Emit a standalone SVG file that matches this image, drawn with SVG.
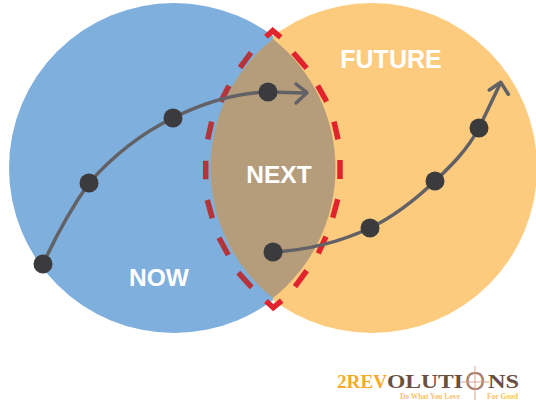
<svg xmlns="http://www.w3.org/2000/svg" width="536" height="401" viewBox="0 0 536 401">
<defs>
<clipPath id="cl"><rect x="0" y="0" width="273" height="401"/></clipPath>
<clipPath id="cr"><rect x="273" y="0" width="263" height="401"/></clipPath>
</defs>
<style>
.lbl{font-family:"Liberation Sans",Arial,sans-serif;font-weight:700;fill:#fff;font-size:24.5px;text-anchor:middle}
.dl,.dr{fill:none;stroke-width:5.5}
.dl{stroke:#b5343a}
.dr{stroke:#e1232e}
.curve{fill:none;stroke:#626165;stroke-width:3.5;stroke-linecap:round;stroke-linejoin:round}
.dot{fill:#3b3a3c}
.logo{font-family:"Liberation Serif",serif;font-weight:700}
</style>
<rect width="536" height="401" fill="#fff"/>
<g id="now"><circle cx="174" cy="168" r="165" fill="#7fafdc" clip-path="url(#cl)"/><text class="lbl" x="159" y="286">NOW</text></g>
<g id="future"><circle cx="372" cy="168" r="165" fill="#fdcb7e" clip-path="url(#cr)"/><text class="lbl" x="391" y="68" style="font-size:25px">FUTURE</text></g>
<g id="next"><path d="M273 39 A165.4 165.4 0 0 1 273 298 A165.4 165.4 0 0 1 273 39Z" fill="#b59d7c"/><text class="lbl" x="279" y="183">NEXT</text></g>
<g id="connectors">
<path class="dl" d="M251 52.7 L240 67.7 M229 85.7 L220.7 101.7 M211.7 121.7 L207.7 139.3 M205.7 160.7 V179.3 M207.3 200 L212.3 218.3 M219 237.7 L228.3 255 M238.3 272.7 L251.7 287.3"/>
<path class="dr" d="M266 36.7 L272.7 30.7 L280.7 37.3 M293.3 52.7 L306.7 68.3 M317.7 85.7 L326.7 101.7 M334 121.7 L338 139.3 M340 160 V179 M337.7 199.3 L332.7 217.7 M326 236.7 L318.3 253.3 M306.7 270.7 L295 286.7 M266 301 L273.3 307.7 L281.7 300.7"/>
<path class="curve" d="M43 264 C55 238 70 210 89 183 C112 157 140 134 173 118 C205 102 235 93 268 92 L305 93"/>
<path class="curve" d="M296 84 L307 92.7 L296 103"/>
<path class="curve" d="M273 252 C310 250 340 242 370 228 C395 216 415 200 435 181 C452 165 467 150 479 128 L500 84"/>
<path class="curve" d="M489.3 90 L500.7 82.3 L508.3 94.3"/>
</g>
<g id="dots">
<circle class="dot" cx="43" cy="264" r="9.5"/><circle class="dot" cx="89" cy="183" r="9.5"/><circle class="dot" cx="173" cy="118" r="9.5"/><circle class="dot" cx="268" cy="92" r="9.5"/>
<circle class="dot" cx="273" cy="252" r="9.5"/><circle class="dot" cx="370" cy="228" r="9.5"/><circle class="dot" cx="435" cy="181" r="9.5"/><circle class="dot" cx="479" cy="128" r="9.5"/>
</g>
<g id="logo">
<text class="logo" x="337" y="388" font-size="19" fill="#f7a92a" textLength="50" lengthAdjust="spacingAndGlyphs">2REV</text>
<text class="logo" x="387" y="388" font-size="19" fill="#6b4f40" textLength="76" lengthAdjust="spacingAndGlyphs">OLUTI</text>
<text class="logo" x="488" y="388" font-size="19" fill="#6b4f40" textLength="31" lengthAdjust="spacingAndGlyphs">NS</text>
<text x="475" y="390" font-family="Liberation Sans,sans-serif" font-size="26" fill="#a9806a" text-anchor="middle">O</text>
<path d="M475 366 V400 M461 382 H489" stroke="#d9a58f" stroke-width="1" fill="none"/>
<text class="logo" x="400" y="399" font-size="7.5" fill="#f6c26b" textLength="60" lengthAdjust="spacingAndGlyphs">Do What You Love</text>
<text class="logo" x="487" y="399" font-size="7.5" fill="#f6c26b" textLength="31" lengthAdjust="spacingAndGlyphs">For Good</text>
</g>
</svg>
